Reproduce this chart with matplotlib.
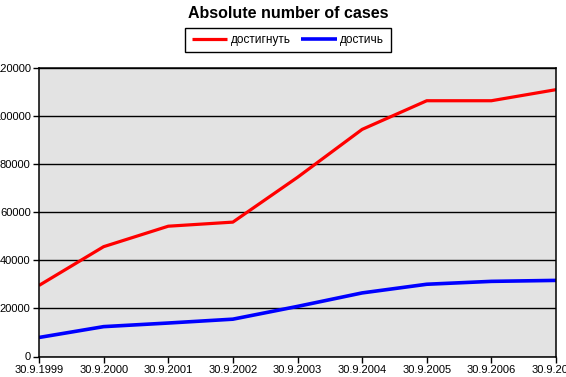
import matplotlib
matplotlib.use("Agg")
import matplotlib.pyplot as plt

plt.rcParams['font.family'] = ['Liberation Sans', 'DejaVu Sans']

# data
dates = ['30.9.1999', '30.9.2000', '30.9.2001', '30.9.2002', '30.9.2003',
         '30.9.2004', '30.9.2005', '30.9.2006', '30.9.2007']
dostignut = [29500, 45600, 54100, 55800, 74400, 94300, 106200, 106200, 110800]
dostich = [7900, 12400, 13900, 15500, 20800, 26400, 30000, 31200, 31600]
y_ticks = [0, 20000, 40000, 60000, 80000, 100000, 120000]

fig = plt.figure(figsize=(5.66, 3.77), dpi=100)
ax = fig.add_axes([39 / 566, 20.5 / 377, 517 / 566, 289 / 377])
ax.set_facecolor('#E3E3E3')

x = list(range(len(dates)))
ax.plot(x, dostignut, color='#FF0000', lw=2.3, label='достигнуть', solid_capstyle='butt')
ax.plot(x, dostich, color='#0000FF', lw=2.6, label='достичь', solid_capstyle='butt')

ax.set_xlim(0, len(dates) - 1)
ax.set_ylim(0, 120000)
ax.set_xticks(x)
ax.set_xticklabels(dates, fontsize=8)
ax.set_yticks(y_ticks)
ax.set_yticklabels([str(v) for v in y_ticks], fontsize=8)
ax.grid(axis='y', color='black', lw=1, zorder=0)
ax.set_axisbelow(True)
for s in ax.spines.values():
    s.set_color('black')
    s.set_linewidth(1.1)
ax.tick_params(direction='out', length=4, width=1, color='black', pad=2)

fig.text(288 / 566, 1 - 13 / 377, 'Absolute number of cases', ha='center', va='center',
         fontsize=11.5, fontweight='bold')
fig.legend(loc='center', bbox_to_anchor=(288 / 566, 1 - 40 / 377), ncol=2,
           fontsize=8.5, frameon=True, fancybox=False, edgecolor='black',
           framealpha=1, handlelength=3.0, handletextpad=0.3,
           columnspacing=0.9, borderpad=0.55)

fig.savefig('out.png', dpi=100)
